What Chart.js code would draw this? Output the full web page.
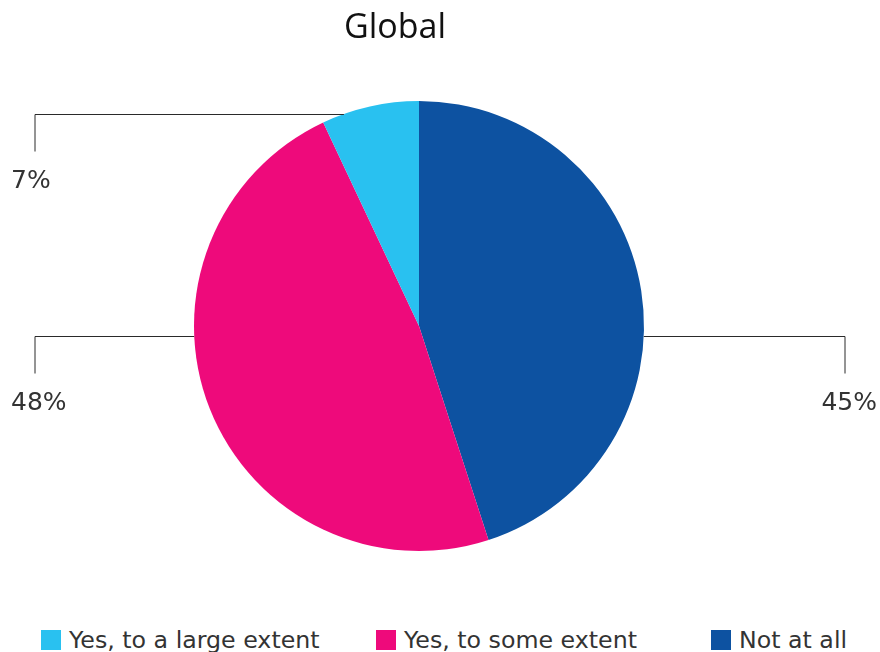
<!DOCTYPE html>
<html>
<head>
<meta charset="utf-8">
<script src="https://cdn.jsdelivr.net/npm/chart.js@4/dist/chart.umd.min.js"></script>
<style>
  body { margin: 0; background: #fff; }
  #wrap { position: relative; width: 880px; height: 652px; }
  #box { position: absolute; left: 0; top: 0; width: 880px; height: 615px; }
  #legend { position: absolute; left: 41px; top: 627px; display: flex; font-family: "DejaVu Sans", sans-serif; font-size: 23.7px; line-height: 26px; color: #333; }
  #legend .item { display: flex; align-items: center; width: 335px; white-space: nowrap; }
  #legend .item:last-child { width: auto; }
  #legend .sw { width: 20px; height: 20px; margin-right: 8px; }
</style>
</head>
<body>
<div id="wrap">
  <div id="box"><canvas id="chart"></canvas></div>
  <div id="legend"></div>
</div>
<script>
// Datos del gráfico
const titulo = 'Global';
const categorias = ['Not at all', 'Yes, to some extent', 'Yes, to a large extent'];
const valores = [45, 48, 7];
const colores = ['#0D52A1', '#EE0A7B', '#29C1F0'];

// Plugin para dibujar el título (desplazado a la izquierda como en el original)
const tituloPlugin = {
    id: 'tituloPlugin',
    afterDraw(chart, args, opts) {
        const ctx = chart.ctx;
        ctx.save();
        ctx.font = '34px "Open Sans"';
        ctx.fillStyle = '#111';
        ctx.textAlign = 'center';
        ctx.textBaseline = 'middle';
        ctx.fillText(opts.text, opts.x, opts.y);
        ctx.restore();
    }
};

// Plugin para las etiquetas con líneas guía
const etiquetasPlugin = {
    id: 'etiquetasPlugin',
    afterDatasetsDraw(chart, args, opts) {
        const ctx = chart.ctx;
        const meta = chart.getDatasetMeta(0);
        ctx.save();
        ctx.strokeStyle = '#2a2a2a';
        ctx.lineWidth = 1;
        ctx.font = '25px "DejaVu Sans"';
        ctx.fillStyle = '#333';
        ctx.textBaseline = 'alphabetic';
        meta.data.forEach((arc, i) => {
            const ang = opts.angulos[i] * Math.PI / 180;
            const x0 = arc.x + arc.outerRadius * Math.sin(ang);
            const y0 = Math.round(arc.y - arc.outerRadius * Math.cos(ang)) + 0.5;
            const izq = Math.sin(ang) < 0;
            const x1 = izq ? opts.margen : chart.width - opts.margen;
            ctx.beginPath();
            ctx.moveTo(x0, y0);
            ctx.lineTo(x1, y0);
            ctx.lineTo(x1, y0 + opts.bajada);
            ctx.stroke();
            const texto = valores[i] + '%';
            ctx.textAlign = izq ? 'left' : 'right';
            ctx.fillText(texto, izq ? 11 : chart.width - 3, y0 + opts.bajada + 36);
        });
        ctx.restore();
    }
};

const ctx = document.getElementById('chart').getContext('2d');
const chart = new Chart(ctx, {
    type: 'pie',
    data: {
        labels: categorias,
        datasets: [{
            data: valores,
            backgroundColor: colores,
            borderWidth: 0
        }]
    },
    options: {
        responsive: true,
        maintainAspectRatio: false,
        animation: false,
        layout: {
            padding: { top: 101, bottom: 64, left: 0, right: 42 }
        },
        plugins: {
            legend: { display: false },
            tooltip: { enabled: false },
            tituloPlugin: { text: titulo, x: 395, y: 28 },
            etiquetasPlugin: { angulos: [92.5, 267.5, 340.5], margen: 35, bajada: 37 }
        }
    },
    plugins: [tituloPlugin, etiquetasPlugin]
});

// Leyenda en HTML (orden invertido)
const items = chart.options.plugins.legend.labels.generateLabels(chart).reverse();
const leyenda = document.getElementById('legend');
items.forEach(it => {
    const div = document.createElement('div');
    div.className = 'item';
    const sw = document.createElement('span');
    sw.className = 'sw';
    sw.style.background = it.fillStyle;
    const txt = document.createElement('span');
    txt.textContent = it.text;
    div.appendChild(sw);
    div.appendChild(txt);
    leyenda.appendChild(div);
});
</script>
</body>
</html>
